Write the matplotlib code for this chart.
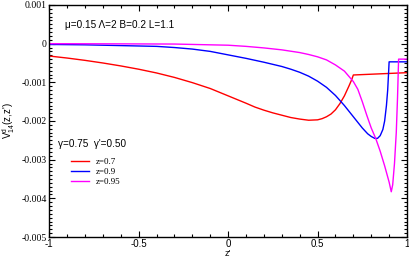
import matplotlib
matplotlib.use("Agg")
import matplotlib.pyplot as plt
from matplotlib.ticker import MultipleLocator

# z = 0.7
zp_red = [-1.0, -0.9, -0.8, -0.7, -0.6, -0.5, -0.4, -0.3, -0.2, -0.1, 0.0, 0.1, 0.15, 0.2,
          0.25, 0.3, 0.35, 0.4, 0.45, 0.5, 0.525, 0.55, 0.575, 0.6, 0.625, 0.65, 0.675, 0.69,
          0.7, 0.8, 0.9, 1.0]
v_red = [-0.00032, -0.000372, -0.000432, -0.000500, -0.000576, -0.000661, -0.000758,
         -0.000873, -0.001008, -0.00116, -0.00135, -0.00154, -0.00164, -0.00172, -0.00179,
         -0.00185, -0.00191, -0.00195, -0.00198, -0.00197, -0.00194, -0.00189, -0.00182,
         -0.00171, -0.00155, -0.00135, -0.00110, -0.00094, -0.00081, -0.00079, -0.00077,
         -0.00075]

# z = 0.9
zp_blue = [-1.0, -0.8, -0.6, -0.4, -0.3, -0.2, -0.1, 0.0, 0.1, 0.2, 0.3, 0.35, 0.4, 0.45,
           0.5, 0.55, 0.6, 0.65, 0.7, 0.75, 0.78, 0.8, 0.82, 0.835, 0.85, 0.865, 0.875,
           0.885, 0.892, 0.897, 0.9, 1.0]
v_blue = [-0.00002, -0.00003, -0.00005, -0.00007, -0.00010, -0.00014, -0.00020, -0.00029,
          -0.00038, -0.00048, -0.00059, -0.00066, -0.00074, -0.00084, -0.00097, -0.00113,
          -0.00134, -0.00160, -0.00189, -0.00218, -0.00233, -0.00240, -0.00245, -0.00245,
          -0.00238, -0.00222, -0.00200, -0.00160, -0.00120, -0.00075, -0.00047, -0.00047]

# z = 0.95
zp_mag = [-1.0, -0.6, -0.3, -0.1, 0.0, 0.1, 0.2, 0.3, 0.4, 0.45, 0.5, 0.55, 0.6, 0.65, 0.7,
          0.725, 0.75, 0.775, 0.8, 0.825, 0.85, 0.875, 0.9, 0.912, 0.92, 0.93, 0.94, 0.947,
          0.953, 1.0]
v_mag = [0.0, -0.000005, -0.00001, -0.00003, -0.00004, -0.00007, -0.00011, -0.00016,
         -0.00023, -0.00028, -0.00034, -0.00042, -0.00055, -0.00071, -0.00098, -0.00118,
         -0.00150, -0.00185, -0.00218, -0.00245, -0.00278, -0.00316, -0.00358, -0.00383,
         -0.00365, -0.00310, -0.00230, -0.00140, -0.00040, -0.00040]

series = [
    (zp_red, v_red, "z=0.7", "#ff0000"),
    (zp_blue, v_blue, "z=0.9", "#0000ff"),
    (zp_mag, v_mag, "z=0.95", "#ff00ff"),
]

xticks = [-1, -0.5, 0, 0.5, 1]
xticklabels = ["-1", "-0.5", "0", "0.5", "1"]
yticks = [0.001, 0, -0.001, -0.002, -0.003, -0.004, -0.005]
yticklabels = ["0.001", "0", "-0.001", "-0.002", "-0.003", "-0.004", "-0.005"]

fig = plt.figure(figsize=(4.1, 2.58), dpi=100)
ax = fig.add_axes([49.3 / 410, 1 - 237 / 258, (407 - 49.3) / 410, (237 - 5) / 258])

for zp, v, lab, col in series:
    ax.plot(zp, v, color=col, lw=1.0, label=lab)

ax.set_xlim(-1, 1)
ax.set_ylim(-0.005, 0.001)
ax.set_xticks(xticks)
ax.set_xticklabels(xticklabels, fontfamily="Liberation Sans", fontsize=7)
ax.set_yticks(yticks)
ax.set_yticklabels(yticklabels, fontfamily="Liberation Serif", fontsize=7)
ax.xaxis.set_minor_locator(MultipleLocator(0.1))
ax.yaxis.set_minor_locator(MultipleLocator(0.0001))
ax.tick_params(which="both", direction="in", top=True, right=True, width=0.8, pad=2)
ax.tick_params(axis="x", which="both", pad=1.2)
ax.tick_params(which="major", length=4.5)
ax.tick_params(which="minor", length=2.3)
for s in ax.spines.values():
    s.set_linewidth(1.0)

ax.set_xlabel("z'", fontfamily="Liberation Sans", fontsize=6.5, labelpad=0.3)
ax.set_ylabel("V$^{\\mathregular{d}}_{\\mathregular{14}}$(z,z')", fontfamily="Liberation Sans",
              fontsize=7, labelpad=3)

ax.text(0.045, 0.915, "\u03bc=0.15 \u039b=2 B=0.2 L=1.1", transform=ax.transAxes,
        fontfamily="Liberation Sans", fontsize=7.2, va="center", ha="left")
ax.text(0.025, 0.40, "\u03b3=0.75  \u03b3'=0.50", transform=ax.transAxes,
        fontfamily="Liberation Sans", fontsize=7.2, va="center", ha="left")

leg = ax.legend(loc="upper left", bbox_to_anchor=(0.043, 0.367), frameon=False,
                prop={"family": "Liberation Serif", "size": 6.5}, handlelength=2.0,
                handletextpad=0.7, labelspacing=0.18, borderpad=0.2)

fig.savefig("out.png", dpi=100)
